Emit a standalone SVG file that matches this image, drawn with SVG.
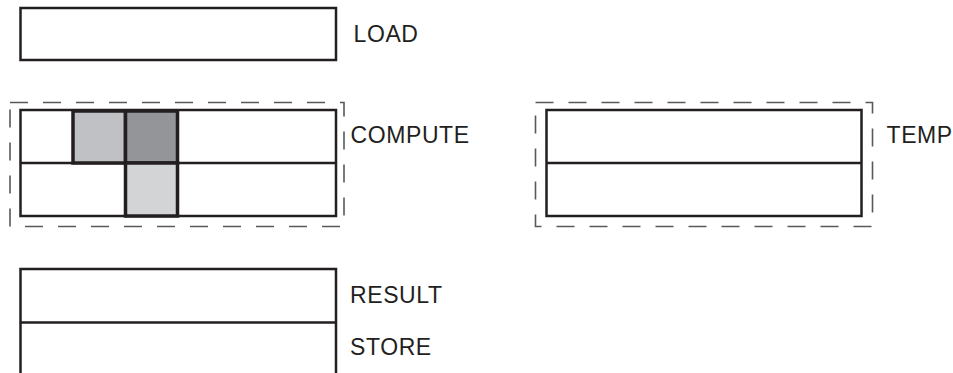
<svg xmlns="http://www.w3.org/2000/svg" width="953" height="373" viewBox="0 0 953 373">
  <style>
    .reg { fill: #ffffff; stroke: #231f20; stroke-width: 2.5; }
    .div { stroke: #231f20; stroke-width: 2.5; fill: none; }
    .group { fill: none; stroke: #58595b; stroke-width: 1.6; stroke-dasharray: 18 15; }
    .cell { stroke: #231f20; stroke-width: 3.5; }
    .lbl { font-family: "Liberation Sans", Arial, sans-serif; font-size: 23px; letter-spacing: 0.6px; fill: #231f20; }
  </style>
  <rect width="953" height="373" fill="#ffffff"/>

  <g id="load">
    <rect class="reg" x="20.5" y="8" width="315.5" height="52"/>
    <text class="lbl" x="353.5" y="41.5">LOAD</text>
  </g>

  <g id="compute">
    <rect class="group" x="10" y="102.5" width="334" height="124"/>
    <rect class="reg" x="20.5" y="110" width="315.5" height="106"/>
    <line class="div" x1="20.5" y1="163" x2="336" y2="163"/>
    <rect class="cell" x="73" y="111" width="52.5" height="52" fill="#c0c1c4"/>
    <rect class="cell" x="125.5" y="111" width="52" height="52" fill="#939598"/>
    <rect class="cell" x="125.5" y="163" width="52" height="53" fill="#d3d4d6"/>
    <text class="lbl" x="350.5" y="142.5">COMPUTE</text>
  </g>

  <g id="temp">
    <rect class="group" x="535.5" y="102.5" width="337" height="124"/>
    <rect class="reg" x="546.5" y="110" width="315" height="106"/>
    <line class="div" x1="546.5" y1="163" x2="861.5" y2="163"/>
    <text class="lbl" x="886.5" y="142.5">TEMP</text>
  </g>

  <g id="result-store">
    <rect class="reg" x="20.5" y="269" width="315.5" height="120"/>
    <line class="div" x1="20.5" y1="322.5" x2="336" y2="322.5"/>
    <text class="lbl" x="350" y="303">RESULT</text>
    <text class="lbl" x="350" y="355">STORE</text>
  </g>

  <g id="connectors"/>
</svg>
